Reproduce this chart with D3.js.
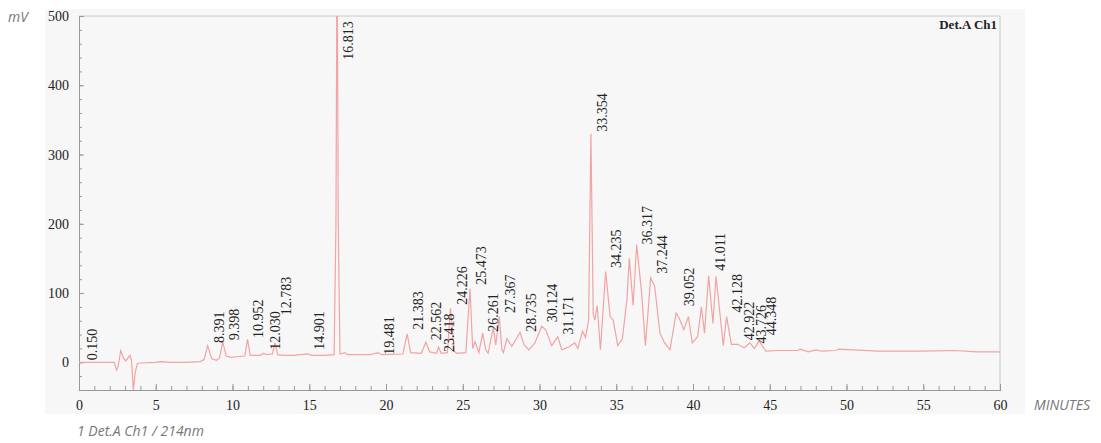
<!DOCTYPE html>
<html>
<head>
<meta charset="utf-8">
<script src="https://cdn.jsdelivr.net/npm/d3@7"></script>
<style>
  body { margin: 0; background: #fff; }
  svg text.serif, svg .axis text { font-family: "Liberation Serif", "Times New Roman", "DejaVu Serif", serif; fill: #222; }
  .note { font-family: "Open Sans", sans-serif; font-style: italic; fill: #777; font-size: 14px; }
</style>
</head>
<body>
<script>
// retention time (min) / signal (mV)
const times = [0, 2.3, 2.45, 2.55, 2.72, 2.9, 3.05, 3.32, 3.42, 3.54, 3.66, 3.8, 4.0, 5.0, 5.3, 6.0, 7.0, 7.9, 8.15, 8.38, 8.65, 8.95, 9.15, 9.36, 9.6, 9.9, 10.3, 10.8, 10.98, 11.15, 11.8, 12.03, 12.2, 12.6, 12.77, 12.95, 13.3, 14.0, 14.9, 15.15, 16.0, 16.62, 16.74, 16.813, 16.89, 17.0, 17.3, 17.5, 19.0, 19.48, 19.7, 21.1, 21.38, 21.6, 22.3, 22.6, 22.85, 23.3, 23.42, 23.6, 24.0, 24.2, 24.45, 24.6, 25.2, 25.47, 25.65, 25.8, 26.05, 26.3, 26.5, 26.65, 26.99, 27.15, 27.38, 27.55, 27.65, 27.87, 28.2, 28.73, 29.0, 29.3, 29.7, 30.14, 30.4, 30.8, 31.19, 31.45, 31.9, 32.3, 32.5, 32.8, 33.0, 33.2, 33.35, 33.5, 33.6, 33.76, 33.97, 34.31, 34.6, 34.8, 35.1, 35.4, 35.7, 35.85, 36.1, 36.33, 36.65, 36.9, 37.24, 37.5, 37.85, 38.15, 38.5, 38.9, 39.1, 39.4, 39.7, 39.95, 40.3, 40.55, 40.75, 41.02, 41.3, 41.5, 41.8, 41.97, 42.19, 42.5, 42.9, 43.35, 43.7, 44.0, 44.3, 44.75, 45.5, 46.8, 47.0, 47.5, 48.0, 48.4, 49.3, 49.5, 52, 55, 57, 58.5, 60];
const signal = [0, 0, -11, -6, 17, 6, 2, 10, 3, -40, -15, -2, -1, 0, 1, 0, 0, 1, 4, 24, 5, 3, 6, 29, 9, 7, 8, 9, 33, 10, 10, 13, 11, 12, 28, 11, 10, 10, 12, 10, 10, 11, 200, 620, 200, 12, 14, 11, 11, 14, 11, 12, 41, 14, 13, 29, 15, 13, 22, 13, 14, 78, 16, 13, 14, 106, 20, 30, 14, 42, 18, 13, 50, 25, 66, 18, 14, 34, 23, 43, 25, 18, 28, 52, 47, 24, 37, 18, 22, 28, 20, 45, 36, 61, 330, 70, 61, 82, 18, 131, 66, 61, 24, 34, 92, 150, 82, 170, 101, 24, 122, 110, 42, 28, 18, 71, 64, 47, 66, 28, 37, 80, 42, 125, 56, 124, 61, 24, 66, 26, 26, 21, 28, 20, 31, 16, 17, 17, 19, 15, 18, 16, 17, 19, 16, 16, 17, 15, 15];

// peak labels: retention time and label foot (mV)
const peakTimes = [0.150, 8.391, 9.398, 10.952, 12.030, 12.783, 14.901, 16.813, 19.481, 21.383, 22.562, 23.418, 24.226, 25.473, 26.261, 27.367, 28.735, 30.124, 31.171, 33.354, 34.235, 36.317, 37.244, 39.052, 41.011, 42.128, 42.922, 43.726, 44.348];
const peakLabelY = [3, 28, 32, 35, 18, 68, 18, 437, 11, 47, 32, 15, 83, 112, 44, 71, 44, 58, 40, 333, 136, 170, 128, 81, 132, 72, 32, 27, 39];

const xTicks = d3.range(0, 61, 5);
const yTicks = [0, 100, 200, 300, 400, 500];

const W = 1101, H = 443;
const mLeft = 79, mRight = 1000, mTop = 16, mBottom = 390;

const svg = d3.select("body").append("svg")
    .attr("width", W)
    .attr("height", H);

svg.append("rect")
    .attr("x", 45).attr("y", 9)
    .attr("width", 980).attr("height", 405)
    .attr("fill", "#f7f7f7");

const x = d3.scaleLinear().domain([0, 60]).range([mLeft, mRight]);
const y = d3.scaleLinear().domain([-40, 500]).range([mBottom, mTop]);

// frame
svg.append("path")
    .attr("d", `M${mLeft},${mTop}H${mRight}V${mBottom}`)
    .attr("fill", "none")
    .attr("stroke", "#c8c8c8");

// x axis
const gx = svg.append("g").attr("class", "axis").attr("transform", `translate(0,${mBottom})`);
gx.append("g").call(d3.axisBottom(x).tickValues(d3.range(0, 61, 1)).tickSize(-4).tickFormat(""));
gx.append("g").call(d3.axisBottom(x).tickValues(xTicks).tickSize(-6).tickPadding(10).tickFormat(d3.format("d")));
gx.selectAll("path, line").attr("stroke", "#999");
gx.selectAll("text").attr("font-size", 14);

// y axis
const gy = svg.append("g").attr("class", "axis").attr("transform", `translate(${mLeft},0)`);
gy.append("g").call(d3.axisLeft(y).tickValues(d3.range(-40, 501, 20)).tickSize(-3).tickFormat(""));
gy.append("g").call(d3.axisLeft(y).tickValues(yTicks).tickSize(-5).tickPadding(10).tickFormat(d3.format("d")));
gy.selectAll("path, line").attr("stroke", "#999");
gy.selectAll("text").attr("font-size", 14);

// trace
svg.append("clipPath").attr("id", "clip")
    .append("rect").attr("x", mLeft).attr("y", mTop)
    .attr("width", mRight - mLeft).attr("height", mBottom - mTop);

const line = d3.line()
    .x((d, i) => x(times[i]))
    .y(d => y(d));

svg.append("path")
    .datum(signal)
    .attr("clip-path", "url(#clip)")
    .attr("d", line)
    .attr("fill", "none")
    .attr("stroke", "#f2a3a3")
    .attr("stroke-width", 1.2);

// peak labels
svg.selectAll(".peak")
    .data(peakTimes)
    .enter().append("text")
    .attr("class", "peak serif")
    .attr("transform", (d, i) => `translate(${x(d) + 16},${y(peakLabelY[i])}) rotate(-90)`)
    .attr("font-size", 14)
    .text(d => d3.format(".3f")(d));

svg.append("text")
    .attr("class", "serif")
    .attr("x", mRight - 3).attr("y", mTop + 13)
    .attr("text-anchor", "end")
    .attr("font-size", 13)
    .attr("font-weight", "bold")
    .text("Det.A Ch1");

svg.append("text").attr("class", "note").attr("x", 8).attr("y", 22).text("mV");
svg.append("text").attr("class", "note").attr("x", 1034).attr("y", 410).text("MINUTES");
svg.append("text").attr("class", "note").attr("x", 77).attr("y", 436).text("1 Det.A Ch1 / 214nm");
</script>
</body>
</html>
